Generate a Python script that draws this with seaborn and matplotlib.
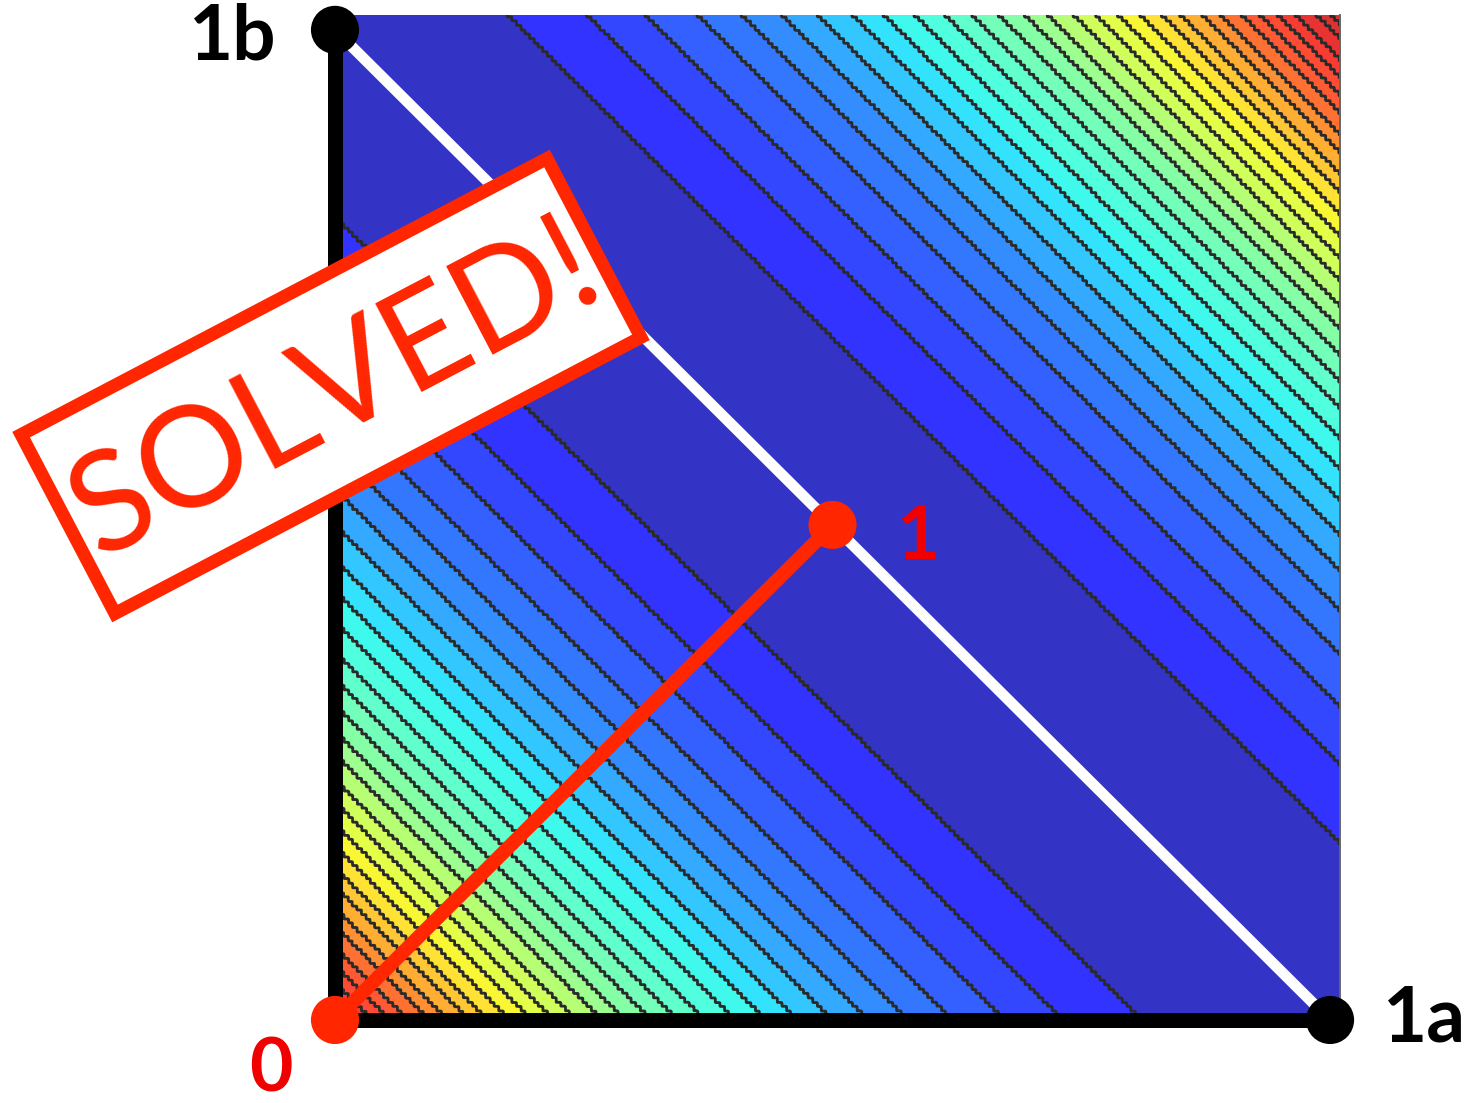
import numpy as np
import pandas as pd
import matplotlib
matplotlib.use("Agg")
import matplotlib.pyplot as plt
from matplotlib.patches import Polygon
import seaborn as sns

# --- chart content -------------------------------------------------------
corner_labels = ["1b", "1a"]
corner_a = [0.0, 1.0]          # weight on task a at the two corners
corner_b = [1.0, 0.0]          # weight on task b at the two corners
path_labels = ["0", "1"]
path_a = [0.0, 0.5]            # start point and solution
path_b = [0.0, 0.5]
loss_step = 1.0 / 28           # spacing of the contour levels
n_levels = 31
stamp_text = "SOLVED!"

# position along the jet palette for a given loss value
pal_loss = [0.0, 0.018, 0.054, 0.10, 0.20, 0.30, 0.40, 0.50, 0.60, 0.70,
            0.78, 0.86, 0.95, 1.08]
pal_pos = [0.03, 0.05, 0.12, 0.16, 0.24, 0.34, 0.41, 0.49, 0.60, 0.68,
           0.76, 0.85, 0.90, 0.95]

sns.set_theme(style="white")
plt.rcParams["font.family"] = ["Lato", "DejaVu Sans"]

W, H = 1468, 1103
fig = plt.figure(figsize=(W / 100, H / 100), dpi=100)
fig.patch.set_facecolor("white")

ax = fig.add_axes([335 / W, 83 / H, 1005 / W, 1005 / H])
xmax, ymax = 1.01, 1.015

# loss surface (a + b - 1)^2 evaluated on a coarse raster, drawn on a fine grid
q = 1.0 / 225
ga = np.linspace(0, xmax, 1300)
gb = np.linspace(0, ymax, 1300)
A, B = np.meshgrid(ga, gb)
Aq = (np.floor(A / q) + 0.5) * q
Bq = (np.floor(B / q) + 0.5) * q
loss = (Aq + Bq - 1.0) ** 2

levels = np.arange(n_levels) * loss_step
mids = 0.5 * (levels[:-1] + levels[1:])
jet = plt.get_cmap("jet")
band_colors = [tuple(0.8 * np.array(jet(np.interp(m, pal_loss, pal_pos))[:3]) + 0.2)
               for m in mids]

ax.contourf(A, B, loss, levels=levels, colors=band_colors,
            antialiased=False, zorder=1)
ax.contour(A, B, loss, levels=levels[1:], colors="#2a2a2a", linewidths=2.0,
           zorder=2)

ax.set_xlim(0, xmax)
ax.set_ylim(0, ymax)
ax.set_xticks([])
ax.set_yticks([])
for side in ["top", "left", "bottom"]:
    ax.spines[side].set_visible(False)
ax.spines["right"].set_color("#666666")
ax.spines["right"].set_linewidth(1.4)

# minimum line between the two corners
sns.lineplot(x=corner_a, y=corner_b, sort=False, color="white", lw=7.8,
             ax=ax, zorder=4, legend=False)
# black axes of the simplex
ax.plot([0, 0, 1], [1, 0, 0], color="black", lw=10.8, solid_joinstyle="miter",
        solid_capstyle="butt", clip_on=False, zorder=5)
sns.scatterplot(x=corner_a, y=corner_b, color="black", s=1200,
                edgecolor="none", ax=ax, zorder=6, clip_on=False, legend=False)

# optimisation path
path = pd.DataFrame({"a": path_a, "b": path_b})
sns.lineplot(data=path, x="a", y="b", sort=False, color="#ff2600", lw=10,
             ax=ax, zorder=7, legend=False)
sns.scatterplot(data=path, x="a", y="b", color="#ff2600", s=1200,
                edgecolor="none", ax=ax, zorder=8, clip_on=False, legend=False)
ax.set_xlabel("")
ax.set_ylabel("")

# labels
ax.text(-0.1025, 0.992, corner_labels[0], fontsize=55, fontweight="bold",
        color="black", ha="center", va="center", clip_on=False)
ax.text(1.0945, 0.0, corner_labels[1], fontsize=55, fontweight="bold",
        color="black", ha="center", va="center", clip_on=False)
ax.text(-0.064, -0.05, path_labels[0], fontsize=54, fontweight="bold",
        color="#f00000", ha="center", va="center", clip_on=False)
ax.text(0.586, 0.487, path_labels[1], fontsize=54, fontweight="bold",
        color="#f00000", ha="center", va="center", clip_on=False)

# stamp
ov = fig.add_axes([0, 0, 1, 1], zorder=10)
ov.set_xlim(0, W)
ov.set_ylim(H, 0)
ov.axis("off")
ov.patch.set_alpha(0)

cx, cy = 331, 386
ang = np.deg2rad(27.7)
u = np.array([np.cos(ang), -np.sin(ang)])
v = np.array([np.sin(ang), np.cos(ang)])
hl, hw = (607 - 13) / 2, (215 - 13) / 2
c = np.array([cx, cy])
pts = [c - hl * u - hw * v, c + hl * u - hw * v,
       c + hl * u + hw * v, c - hl * u + hw * v]
ov.add_patch(Polygon(pts, closed=True, facecolor="white", edgecolor="#ff2600",
                     linewidth=9.4, joinstyle="miter"))
ov.text(cx + 4, cy + 4, stamp_text, fontsize=100, color="#ff2600", rotation=27.7,
        rotation_mode="anchor", ha="center", va="center")

fig.savefig("out.png", dpi=100, facecolor="white")
